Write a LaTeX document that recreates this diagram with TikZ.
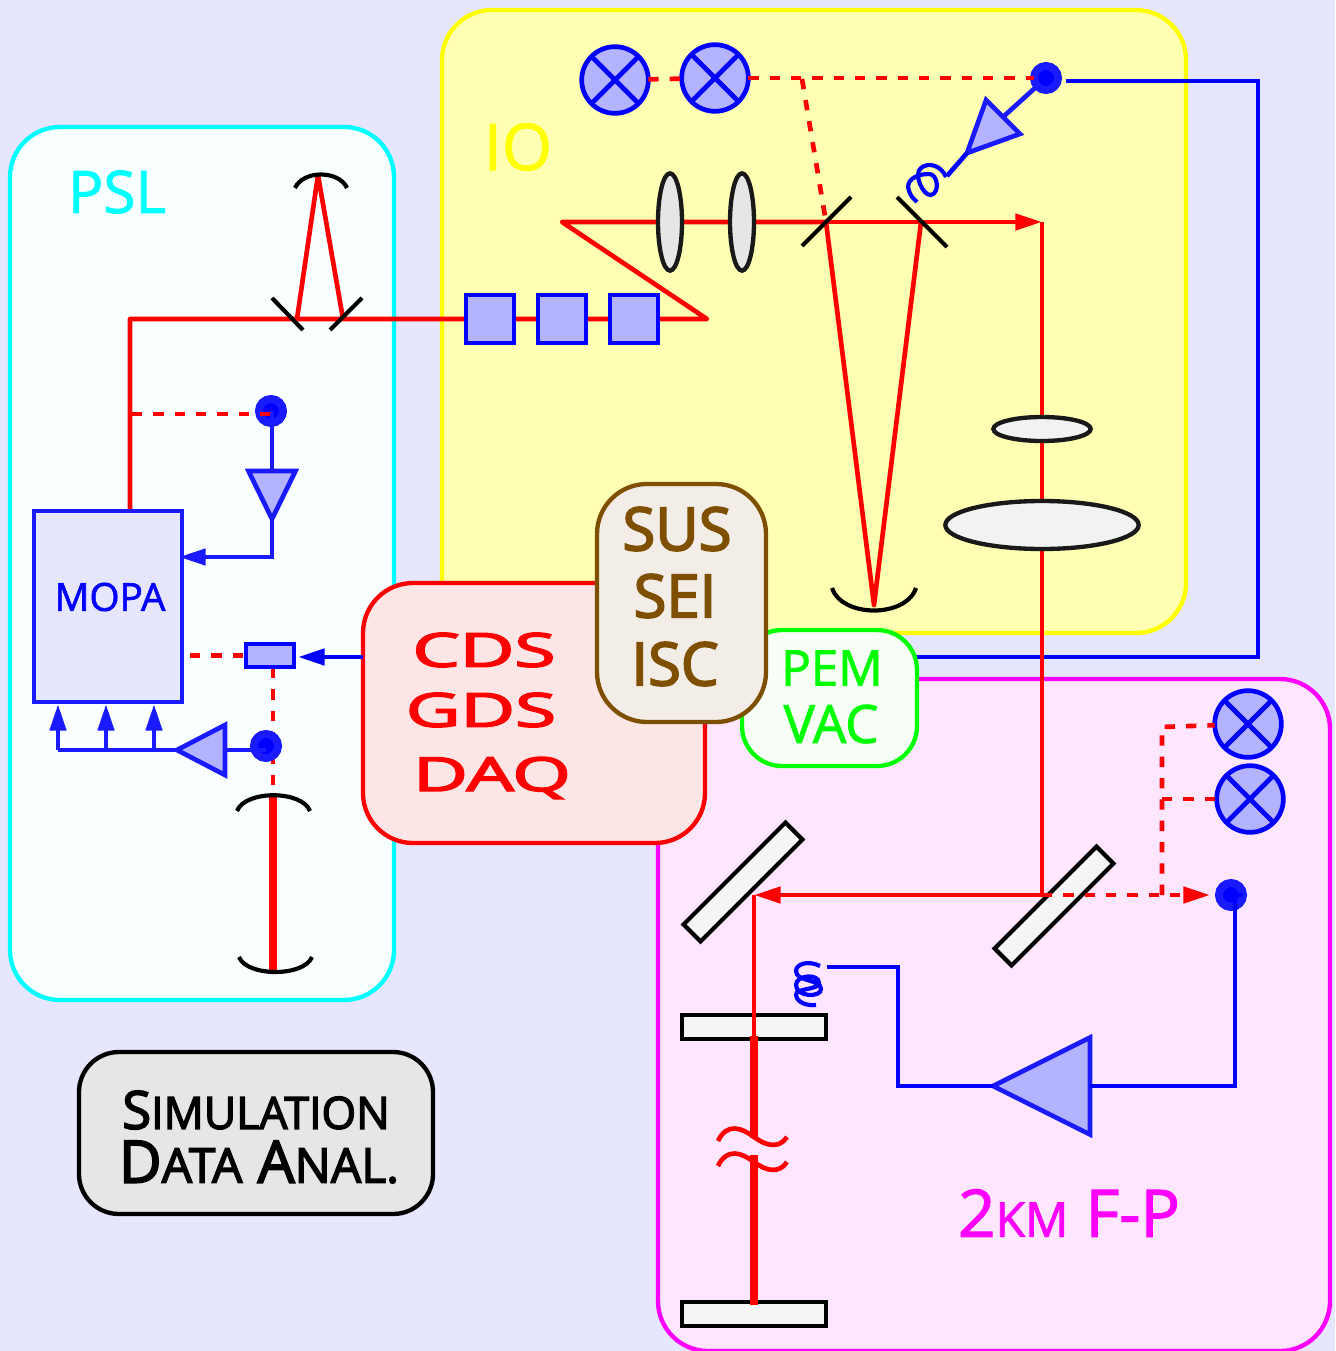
\documentclass[tikz,border=0pt]{standalone}
\usepackage{fontspec}
\setmainfont{Open Sans}
\newfontfamily\heavyfont{Open Sans}[FakeBold=3]
\newfontfamily\midfont{Open Sans}[FakeBold=1.6]
\usepackage{graphicx}
\usetikzlibrary{shapes.geometric, arrows.meta}
\definecolor{backlav}{HTML}{E6E6FF}
\definecolor{pslfill}{HTML}{F9FFFF}
\definecolor{iofill}{HTML}{FFFFB3}
\definecolor{fpfill}{HTML}{FFE6FF}
\definecolor{cdsfill}{HTML}{FFE6E6}
\definecolor{susfill}{HTML}{F2EDE6}
\definecolor{susdraw}{HTML}{7F4F00}
\definecolor{pemfill}{HTML}{F7FFF7}
\definecolor{simfill}{HTML}{E6E6E6}
\definecolor{partfill}{HTML}{B3B3FF}
\definecolor{partdraw}{HTML}{1A1AFF}
\definecolor{pslcyan}{RGB}{0,255,255}
\definecolor{ioyellow}{RGB}{255,255,0}
\definecolor{fpmagenta}{RGB}{255,0,255}
\definecolor{pemgreen}{RGB}{0,255,0}
\newcommand{\bigtxt}[1]{\fontsize{#1}{#1}\selectfont}
\begin{document}
\begin{tikzpicture}[
		x=0.03cm, y=-0.03cm,
		region/.style={rectangle, rounded corners=1.5cm, line width=1.3mm, inner sep=0pt, outer sep=0pt},
		part/.style={draw=partdraw, fill=partfill, line width=1.4mm, inner sep=0pt, outer sep=0pt},
		square/.style={part, draw=blue, rectangle, minimum size=1.44cm},
		detect/.style={part, draw=blue, circle, minimum size=2cm,
			path picture={\draw[blue, line width=1.4mm] (path picture bounding box.north west) -- (path picture bounding box.south east)
				(path picture bounding box.north east) -- (path picture bounding box.south west);}},
		amp/.style={part, isosceles triangle, isosceles triangle stretches, anchor=apex},
		pdiode/.style={circle, fill=blue, draw=partdraw, line width=2.4mm, minimum size=0.72cm, inner sep=0pt, outer sep=0pt},
		lens/.style={ellipse, draw=black!90, fill=simfill, line width=1.3mm, inner sep=0pt, outer sep=0pt},
		bar/.style={rectangle, draw=black, fill=white!96!black, line width=1.25mm, minimum width=4.32cm, minimum height=0.72cm, inner sep=0pt, outer sep=0pt},
		beam/.style={red, line width=1.4mm, line join=round},
		fatbeam/.style={red, line width=2.4mm},
		signal/.style={red, line width=1.4mm, dash pattern=on 3.1mm off 3.3mm},
		wire/.style={partdraw, line width=1.4mm},
		feed/.style={wire, -{Triangle[length=8mm,width=4.8mm]}},
		optic/.style={black, line width=1.25mm},
		spring/.style={blue, line width=1.25mm},
		tag/.style={inner sep=0pt, outer sep=0pt, anchor=center}
	]
	\useasboundingbox[fill=backlav] (0,0) rectangle (1335,1351);

	\node[region, draw=fpmagenta, fill=fpfill, minimum width=20.16cm, minimum height=20.16cm] (fpbox) at (994,1015) {};
	\node[region, draw=ioyellow, fill=iofill, minimum width=22.32cm, minimum height=18.69cm] (iobox) at (814,321.5) {};
	\node[region, draw=pslcyan, fill=pslfill, minimum width=11.52cm, minimum height=26.19cm] (pslbox) at (202,563.5) {};

	\node[tag, pslcyan, font=\midfont\bigtxt{50pt}] (psl) at (117,192) {PSL};
	\node[tag, ioyellow, font=\midfont\bigtxt{55pt}] (io) at (518,147) {IO};
	\node[tag, fpmagenta, font=\midfont\bigtxt{56pt}] (fp) at (1069,1213) {2{\bigtxt{41pt}KM} F-P};

	\coordinate (bendpsl) at (130,319);
	\coordinate (foldfar) at (707,319);
	\coordinate (foldnear) at (562,222);
	\coordinate (bendio) at (1042,222);
	\coordinate (sm1) at (826,222);
	\coordinate (sm2) at (921,222);
	\coordinate (mmt) at (874,605);
	\coordinate (pslm1) at (297,319);
	\coordinate (pslm2) at (343,319);
	\coordinate (pslm3) at (318,175);
	\coordinate (bsfp) at (1042,895);
	\coordinate (bsleft) at (754,895);
	\coordinate (armtop) at (754,1036);
	\coordinate (armgap1) at (754,1138);
	\coordinate (armgap2) at (754,1155);
	\coordinate (armend) at (754,1305);
	\coordinate (split) at (802,79);
	\coordinate (tapfp) at (1162,895);
	\coordinate (tapa) at (1162,727);
	\coordinate (tapb) at (1162,799);
	\coordinate (tappsl) at (132,414);
	\coordinate (cavtop) at (273,795);
	\coordinate (cavend) at (273,970);
	\coordinate (pockfoot) at (273,668);
	\coordinate (wireio) at (1258,81);
	\coordinate (wiredown) at (1258,657);
	\coordinate (wirepem) at (900,657);

	\draw[wire, blue] (1066,81) -- (wireio) -- (wiredown) -- (wirepem);

	\node[bar] (bsa) at (743,882) [rotate=45] {};
	\node[bar] (bsb) at (1054,906) [rotate=45] {};
	\node[bar] (itm) at (754,1027) {};
	\node[bar] (etm) at (754,1314) {};

	\draw[beam] (bendpsl |- 130,510) -- (bendpsl) -- (foldfar) -- (foldnear) -- (sm1);
	\draw[beam, -{Triangle[length=8mm,width=4.8mm]}] (sm1) -- (bendio);
	\draw[beam] (bendio) -- (bsfp);
	\draw[beam] (sm1) -- (mmt) -- (sm2);
	\draw[beam] (pslm1) -- (pslm3) -- (pslm2);
	\draw[beam, -{Triangle[length=8mm,width=4.8mm]}] (bsfp) -- (bsleft);
	\draw[beam] (bsleft) -- (armtop);
	\draw[fatbeam] (armtop) -- (armgap1);
	\draw[fatbeam] (armgap2) -- (armend);
	\draw[fatbeam] (cavtop) -- (cavend);
	\draw[signal] (pockfoot) -- (cavtop);

	\draw[beam] (718,1141) .. controls (727,1122) and (742,1128) .. (754,1137) .. controls (766,1146) and (779,1149) .. (787,1137);
	\draw[beam] (718,1166) .. controls (727,1147) and (742,1153) .. (754,1162) .. controls (766,1171) and (779,1174) .. (787,1162);

	\draw[optic] (272,298) -- (303,330);
	\draw[optic] (362,298) -- (330,330);
	\draw[optic] (802,246) -- (851,197);
	\draw[optic] (897,197) -- (947,247);
	\draw[optic] (295,188) .. controls (303,170) and (339,170) .. (347,188);
	\draw[optic] (237,811) .. controls (245,790) and (302,790) .. (310,811);
	\draw[optic] (239,957) .. controls (247,977) and (304,977) .. (312,957);
	\draw[optic] (832,588) .. controls (842,618) and (906,618) .. (916,588);

	\node[lens, minimum width=0.72cm, minimum height=2.92cm] (lensa) at (670,222) {};
	\node[lens, minimum width=0.72cm, minimum height=2.92cm] (lensb) at (742,222) {};
	\node[lens, fill=white!95!black, minimum width=2.92cm, minimum height=0.72cm] (lensc) at (1042,429) {};
	\node[lens, fill=white!95!black, minimum width=5.8cm, minimum height=1.44cm] (lensd) at (1042,525) {};

	\node[square] (sqa) at (490,319) {};
	\node[square] (sqb) at (562,319) {};
	\node[square] (sqc) at (634,319) {};

	\node[detect] (deta) at (615,80) {};
	\node[detect] (detb) at (715,78) {};
	\node[detect] (detc) at (1248,724) {};
	\node[detect] (detd) at (1250,799) {};

	\node[pdiode] (pda) at (1046,78) {};
	\node[pdiode] (pdb) at (271,411) {};
	\node[pdiode] (pdc) at (266,746) {};
	\node[pdiode] (pdd) at (1231,895) {};

	\node[amp, minimum width=1.44cm, minimum height=1.53cm, rotate=225] (ampa) at (967,153) {};
	\node[amp, minimum width=1.41cm, minimum height=1.44cm, rotate=270] (ampb) at (272,519) {};
	\node[amp, minimum width=1.5cm, minimum height=1.44cm, rotate=180] (ampc) at (177,750) {};
	\node[amp, minimum width=2.91cm, minimum height=2.91cm, rotate=180] (ampd) at (993,1086) {};

	\node[rectangle, draw=partdraw, fill=backlav, line width=1.4mm, minimum width=4.44cm, minimum height=5.73cm, inner sep=0pt, outer sep=0pt] (mopa) at (108,606.5) {};
	\node[tag, blue, font=\midfont\bigtxt{33pt}] (mopatxt) at (110,597) {MOPA};
	\node[square, minimum width=1.44cm, minimum height=0.69cm] (pockels) at (270,655.5) {};

	\draw[signal] (deta) -- (detb);
	\draw[signal] (detb) -- (pda);
	\draw[signal] (split) -- (sm1);
	\draw[signal] (tappsl) -- (tappsl -| pdb);
	\draw[signal] (mopa.east |- pockels) ++(8,0) -- (pockels);
	\draw[signal, -{Triangle[length=8mm,width=4.8mm]}] (bsfp) -- (1210,895);
	\draw[signal] (tapfp) -- (tapa) -- (detc);
	\draw[signal] (tapb) -- (detd);

	\draw[wire] (pda) -- (ampa.lower side);
	\draw[wire] (ampb.lower side) -- (ampb.lower side |- pdb);
	\draw[feed] (ampb.apex) -- (272,557) -- ([xshift=-0.09cm]mopa.east |- 272,557);
	\draw[wire] (ampc.lower side) -- (ampc.lower side -| pdc);
	\draw[wire] (ampc.apex) -- (58,750);
	\draw[feed] (58,750) -- (58,704);
	\draw[feed] (106,750) -- (106,704);
	\draw[feed] (154,750) -- (154,704);
	\draw[wire, blue] (ampa.apex) -- (947,176);
	\draw[spring] (946,177) .. controls (941,165) and (928,162) .. (921,168) .. controls (913,174) and (923,196) .. (931,195)
		.. controls (940,193) and (938,174) .. (929,174) .. controls (915,174) and (905,181) .. (909,191) .. controls (911,197) and (914,199) .. (917,202);
	\draw[spring] (820,966) .. controls (808,960) and (796,964) .. (796,971) .. controls (796,982) and (821,979) .. (821,989)
		.. controls (821,998) and (796,997) .. (796,985) .. controls (796,975) and (819,973) .. (819,983)
		.. controls (819,990) and (795,988) .. (796,995) .. controls (797,1003) and (808,1006) .. (816,1005);
	\draw[wire, blue] (827,967) -- (898,967) -- (898,1086) -- (ampd.apex);
	\draw[wire, blue] (ampd.lower side) -- (1235,1086) |- (pdd);

	\node[region, draw=red, fill=cdsfill, minimum width=10.26cm, minimum height=7.8cm] (cds) at (534,713) {};
	\draw[feed, blue] (cds.west |- 270,657) -- (298,657);
	\node[region, draw=pemgreen, fill=pemfill, minimum width=5.25cm, minimum height=4.08cm, rounded corners=1.2cm] (pem) at (829.5,698) {};
	\node[region, draw=susdraw, fill=susfill, minimum width=5.07cm, minimum height=7.14cm] (sus) at (681.5,603) {};
	\node[region, draw=black, fill=simfill, minimum width=10.62cm, minimum height=4.86cm, rounded corners=1.2cm] (sim) at (256,1133) {};

	\node[tag, red, font=\heavyfont\bigtxt{40pt}] (cdstxt) at (484,650) {\scalebox{1.6}[1]{CDS}};
	\node[tag, red, font=\heavyfont\bigtxt{40pt}] (gdstxt) at (481,710) {\scalebox{1.6}[1]{GDS}};
	\node[tag, red, font=\heavyfont\bigtxt{40pt}] (daqtxt) at (492,778) {\scalebox{1.6}[1]{DAQ}};
	\node[tag, susdraw, font=\heavyfont\bigtxt{51pt}] (sustxt) at (677,529) {SUS};
	\node[tag, susdraw, font=\heavyfont\bigtxt{51pt}] (seitxt) at (675,596) {SEI};
	\node[tag, susdraw, font=\heavyfont\bigtxt{51pt}] (isctxt) at (675,664) {ISC};
	\node[tag, pemgreen, font=\midfont\bigtxt{42pt}] (pemtxt) at (832,668) {PEM};
	\node[tag, pemgreen, font=\midfont\bigtxt{45pt}] (vactxt) at (831,724) {VAC};
	\node[tag, black, font=\heavyfont\bigtxt{45pt}] (simtxt) at (256,1110) {S{\bigtxt{38pt}IMULATION}};
	\node[tag, black, font=\heavyfont\bigtxt{50pt}] (datatxt) at (259,1162) {D{\bigtxt{41pt}ATA} A{\bigtxt{41pt}NAL.}};
\end{tikzpicture}
\end{document}
